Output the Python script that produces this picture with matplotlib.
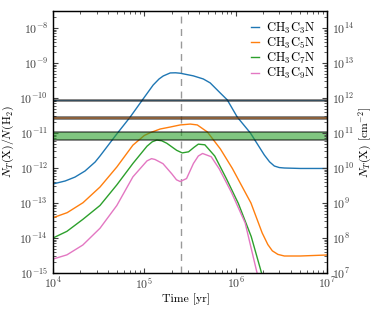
import numpy as np
import matplotlib
matplotlib.use("Agg")
import matplotlib.pyplot as plt
from matplotlib.colors import to_rgba

plt.rcParams['font.family'] = 'serif'
plt.rcParams['font.serif'] = ['cmr10', 'DejaVu Serif']
plt.rcParams['mathtext.fontset'] = 'cm'
plt.rcParams['axes.formatter.use_mathtext'] = True
plt.rcParams['axes.unicode_minus'] = False

# ---- data ----
labels = [r'$\mathrm{CH_3C_3N}$', r'$\mathrm{CH_3C_5N}$', r'$\mathrm{CH_3C_7N}$', r'$\mathrm{CH_3C_9N}$']
colors = ['#1f77b4', '#ff7f0e', '#2ca02c', '#e377c2']

t_c3 = [1e4, 1.36e4, 1.74e4, 2.24e4, 2.89e4, 3.27e4, 4.9e4, 7.0e4, 9.7e4, 1.25e5, 1.45e5, 1.61e5,
        1.92e5, 2.2e5, 2.47e5, 3.43e5, 4.42e5, 5.26e5, 6.78e5, 8.1e5, 1.04e6, 1.45e6, 2.06e6,
        2.35e6, 2.65e6, 3.0e6, 3.41e6, 5.1e6, 1e7]
x_c3 = [3.5e-13, 4.26e-13, 5.5e-13, 8.2e-13, 1.48e-12, 2.2e-12, 8.8e-12, 2.86e-11, 9.4e-11,
        2.35e-10, 3.5e-10, 4.26e-10, 5.2e-10, 5.25e-10, 5.1e-10, 4.3e-10, 3.5e-10, 2.7e-10,
        1.39e-10, 8.8e-11, 2.86e-11, 1.0e-11, 2.35e-12, 1.5e-12, 1.14e-12, 1.03e-12, 1.0e-12,
        9.7e-13, 9.7e-13]

t_c5 = [1e4, 1.43e4, 2.13e4, 3.27e4, 5.0e4, 7.5e4, 1.0e5, 1.16e5, 1.49e5, 1.92e5, 2.47e5, 3.18e5,
        3.8e5, 4.9e5, 6.8e5, 9.2e5, 1.47e6, 1.95e6, 2.25e6, 2.52e6, 2.9e6, 3.41e6, 5.1e6, 1e7]
x_c5 = [3.8e-14, 5.3e-14, 1.02e-13, 2.86e-13, 1.07e-12, 4.5e-12, 8.5e-12, 1.02e-11, 1.3e-11,
        1.48e-11, 1.7e-11, 1.8e-11, 1.7e-11, 1.07e-11, 3.5e-12, 9.7e-13, 1.0e-13, 1.4e-14,
        6.5e-15, 4.3e-15, 3.4e-15, 3.06e-15, 3.06e-15, 3.27e-15]

t_c7 = [1e4, 1.42e4, 2.12e4, 3.27e4, 5.0e4, 7.5e4, 1.07e5, 1.22e5, 1.37e5, 1.55e5, 1.76e5, 2.26e5,
        2.6e5, 3.05e5, 3.5e5, 3.9e5, 4.6e5, 5.9e5, 7.9e5, 1.07e6, 1.48e6, 1.92e6, 2.1e6]
x_c7 = [1.0e-14, 1.55e-14, 3.4e-14, 8.5e-14, 3.3e-13, 1.35e-12, 4.2e-12, 5.6e-12, 6.3e-12,
        6.0e-12, 5.1e-12, 3.2e-12, 2.7e-12, 2.9e-12, 3.9e-12, 4.8e-12, 4.6e-12, 2.2e-12,
        5.0e-13, 9.7e-14, 1.1e-14, 1.0e-15, 5.0e-16]

t_c9 = [1e4, 1.42e4, 2.12e4, 3.27e4, 5.0e4, 7.5e4, 1.07e5, 1.2e5, 1.31e5, 1.6e5, 2.0e5, 2.25e5,
        2.47e5, 2.9e5, 3.45e5, 3.9e5, 4.34e5, 5.4e5, 6.6e5, 9.0e5, 1.27e6, 1.70e6, 1.88e6]
x_c9 = [2.5e-15, 3.3e-15, 6.3e-15, 1.9e-14, 8.5e-14, 5.6e-13, 1.6e-12, 1.85e-12, 1.75e-12,
        1.33e-12, 6.8e-13, 4.6e-13, 4.1e-13, 5.0e-13, 1.35e-12, 2.2e-12, 2.6e-12, 2.1e-12,
        9.5e-13, 2.0e-13, 2.7e-14, 1.1e-15, 4.0e-16]

times = [t_c3, t_c5, t_c7, t_c9]
values = [x_c3, x_c5, x_c7, x_c9]

# observed bands (low, high) per species
bands = [(8.0e-11, 9.0e-11), (2.5e-11, 2.9e-11), (6.5e-12, 1.05e-11)]

t_vline = 2.5e5
NH2 = 1e22
xlim = (1e4, 1e7)
ylim = (1e-15, 3.06e-8)

# ---- figure ----
fig = plt.figure(figsize=(3.74, 3.12), dpi=100)
ax = fig.add_axes([53/374, 1-273/312, (327-53)/374, (273-11)/312])

for t, v, c, l in zip(times, values, colors, labels):
    ax.plot(t, v, color=c, lw=1.0, label=l)

for (lo, hi), c in zip(bands, colors):
    ax.axhspan(lo, hi, facecolor=to_rgba(c, 0.6), edgecolor=(0, 0, 0, 0.55), lw=1.2, zorder=3)

ax.axvline(t_vline, color='0.6', ls=(0, (5, 4)), lw=1.0, zorder=1)

ax.set_xscale('log')
ax.set_yscale('log')
ax.set_xlim(*xlim)
ax.set_ylim(*ylim)
ax.set_yticks([10.0**k for k in range(-15, -7)])
ax.set_xlabel('Time [yr]', fontsize=8.5)
ax.set_ylabel(r'$N_T(\mathrm{X})/N(\mathrm{H_2})$', fontsize=8.5)
ax.xaxis.set_label_coords((186 - 53) / 274, -(294 - 273) / 262)
ax.yaxis.set_label_coords(-(53 - 16) / 274, 0.5)
ax.tick_params(which='both', direction='in', top=True, labelsize=8.5, colors='0.25')
ax.tick_params(axis='x', which='major', pad=2.5)
ax.tick_params(which='major', length=3.5, width=0.8)
ax.tick_params(which='minor', length=2, width=0.6)
for s in ax.spines.values():
    s.set_color('0.1')
    s.set_linewidth(1.0)

ax2 = ax.twinx()
ax2.set_yscale('log')
ax2.set_ylim(ylim[0]*NH2, ylim[1]*NH2)
ax2.set_yticks([10.0**k for k in range(7, 15)])
ax2.tick_params(which='both', direction='in', labelsize=8.5, colors='0.25')
ax2.tick_params(which='major', length=3.5, width=0.8)
ax2.tick_params(which='minor', length=2, width=0.6)
ax2.set_ylabel(r'$N_T(\mathrm{X})$ [cm$^{-2}$]', fontsize=8.5)
ax2.yaxis.set_label_coords(1 + (357 - 327) / 274, 0.5)

leg = ax.legend(loc='upper right', frameon=False, fontsize=9, handlelength=0.6,
                handletextpad=0.6, labelspacing=0.0, borderaxespad=0.35,
                bbox_to_anchor=(0.995, 1.0))

fig.savefig('out.png', dpi=100)
